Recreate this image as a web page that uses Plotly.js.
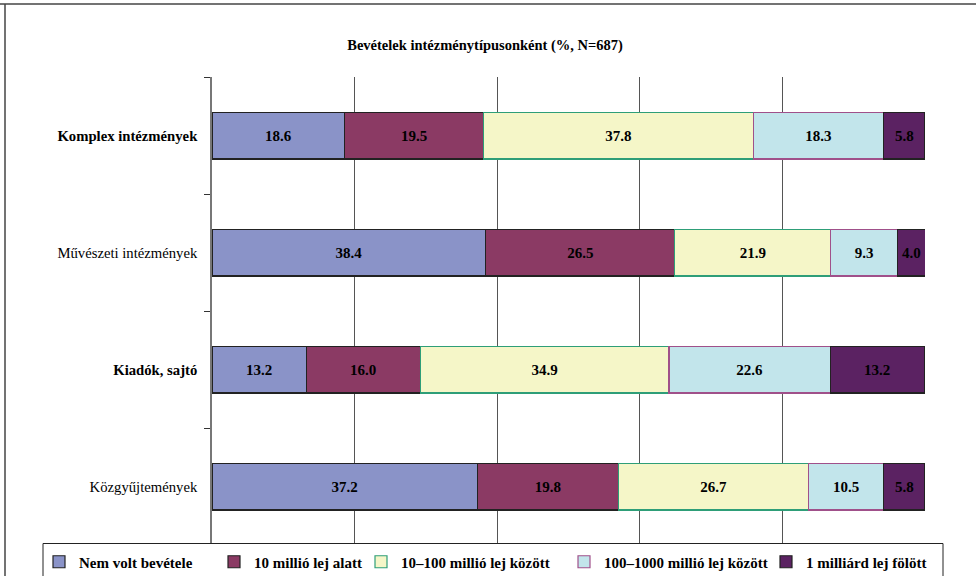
<!DOCTYPE html>
<html>
<head>
<meta charset="utf-8">
<script src="https://cdn.plot.ly/plotly-3.0.1.min.js"></script>
<style>html,body{margin:0;padding:0;background:#fff;}#chart{width:976px;height:576px;}</style>
</head>
<body>
<div id="chart"></div>
<script>
// ---- data ----
const categories = ["Komplex intézmények", "Művészeti intézmények", "Kiadók, sajtó", "Közgyűjtemények"];
const categoryLabels = ["<b>Komplex intézmények</b>", "Művészeti intézmények", "<b>Kiadók, sajtó</b>", "Közgyűjtemények"];
const seriesNames = ["Nem volt bevétele", "10 millió lej alatt", "10–100 millió lej között", "100–1000 millió lej között", "1 milliárd lej fölött"];
const nemVoltBevetele = [18.6, 38.4, 13.2, 37.2];
const tizMillioAlatt = [19.5, 26.5, 16.0, 19.8];
const tizSzazMillio = [37.8, 21.9, 34.9, 26.7];
const szazEzerMillio = [18.3, 9.3, 22.6, 10.5];
const egyMilliardFolott = [5.8, 4.0, 13.2, 5.8];
const seriesValues = [nemVoltBevetele, tizMillioAlatt, tizSzazMillio, szazEzerMillio, egyMilliardFolott];
const xTicks = [0, 20, 40, 60, 80, 100];

// ---- style ----
const fills = ["#8A93C8", "#8B3A64", "#F5F6C8", "#C2E5EB", "#5B2262"];
const lines = ["#222222", "#222222", "#2E9E78", "#A0508A", "#222222"];
const FONT = "Liberation Serif";

// plot area in pixels
const W = 976, H = 576;
const L = 212, R = 925, T = 77, B = 545;
const pw = R - L, ph = B - T;
const px = p => (p - L) / pw;
const py = p => (B - p) / ph;

const legendTextStart = [79, 254, 401, 604, 806];
const legendNames = ["legend", "legend2", "legend3", "legend4", "legend5"];

const traces = seriesNames.map((name, i) => ({
  type: "bar",
  orientation: "h",
  name: name,
  y: categories,
  x: seriesValues[i],
  marker: { color: fills[i], line: { color: lines[i], width: 1.2 } },
  text: seriesValues[i].map(v => v.toFixed(1)),
  textposition: "inside",
  insidetextanchor: "middle",
  constraintext: "none",
  textfont: { family: FONT, size: 15, color: "#000", weight: "bold" },
  legend: legendNames[i],
  hoverinfo: "name+x"
}));

const layout = {
  width: W, height: H,
  margin: { l: L, r: W - R, t: T, b: H - B, pad: 0, autoexpand: false },
  paper_bgcolor: "#fff",
  plot_bgcolor: "#fff",
  barmode: "stack",
  bargap: 0.6,
  font: { family: FONT, color: "#000" },
  title: {
    text: "<b>Bevételek intézménytípusonként (%, N=687)</b>",
    font: { family: FONT, size: 14.5, color: "#000" },
    x: 0.497, xref: "container", xanchor: "center",
    y: 1 - 45 / H, yref: "container", yanchor: "middle"
  },
  xaxis: {
    range: [0, 100],
    tickvals: xTicks,
    showticklabels: false,
    ticks: "",
    showgrid: true,
    gridcolor: "#555",
    gridwidth: 1,
    zeroline: false,
    showline: false,
    fixedrange: true
  },
  yaxis: {
    type: "category",
    categoryorder: "array",
    categoryarray: categories,
    tickvals: categories,
    ticktext: categoryLabels,
    autorange: "reversed",
    ticks: "outside",
    tickson: "boundaries",
    ticklen: 6,
    tickcolor: "#333",
    tickwidth: 1,
    showline: true,
    linecolor: "#777",
    linewidth: 1.5,
    showgrid: false,
    zeroline: false,
    ticklabelstandoff: 10,
    tickfont: { family: FONT, size: 14.7, color: "#000" },
    fixedrange: true
  },
  shapes: [
    // outer frame (top + left)
    { type: "line", xref: "paper", yref: "paper", x0: px(0), x1: px(W), y0: py(4), y1: py(4), line: { color: "#444", width: 1.5 } },
    { type: "line", xref: "paper", yref: "paper", x0: px(5), x1: px(5), y0: py(4), y1: py(H), line: { color: "#444", width: 1.5 } },
    // legend box
    { type: "rect", xref: "paper", yref: "paper", x0: px(43), x1: px(943), y0: py(543.5), y1: py(H + 2), fillcolor: "#fff", line: { color: "#222", width: 1 }, layer: "above" }
  ],
  showlegend: true
};

legendNames.forEach((ln, i) => {
  layout[ln] = {
    orientation: "h",
    x: px(legendTextStart[i] - 40),
    xanchor: "left",
    y: py(562),
    yanchor: "middle",
    bgcolor: "rgba(0,0,0,0)",
    borderwidth: 0,
    font: { family: FONT, size: 15, color: "#000", weight: "bold" },
    itemwidth: 30,
    itemclick: false,
    itemdoubleclick: false
  };
});

Plotly.newPlot("chart", traces, layout, { displayModeBar: false });
</script>
</body>
</html>
